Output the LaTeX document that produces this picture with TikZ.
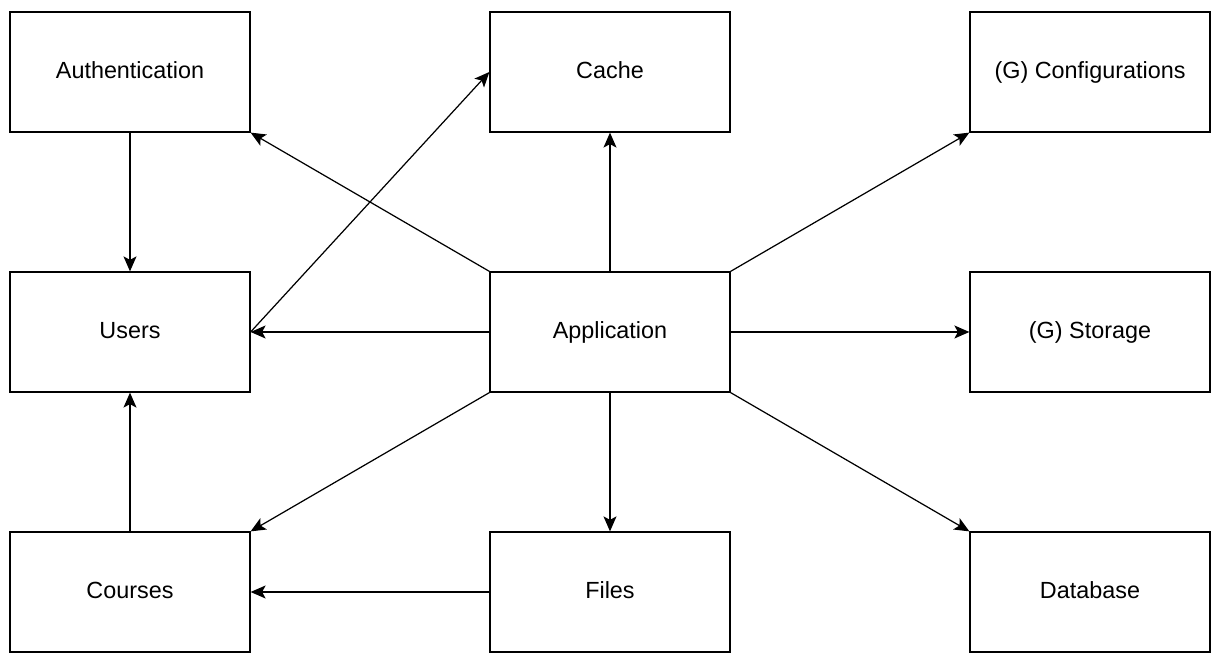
\documentclass[tikz,border=0pt]{standalone}
\usepackage{fontspec}
\setmainfont{Liberation Sans}
\usetikzlibrary{positioning,arrows.meta}
\tikzset{
>={Stealth[length=3mm,width=2.6mm,inset=0.7mm]}, % arrow heads of the connectors
node distance=5.2cm and 9.6cm, % vertical and horizontal spacing of the grid
every path/.style={line width=0.7pt},
every node/.style={font=\fontsize{13.3}{16}\selectfont,align=center},
on grid
}

\begin{document}
\begin{tikzpicture}[block/.style={rectangle, draw, minimum width=4.8cm, minimum height=2.4cm, text height=0.72em, text depth=0pt}]
   \useasboundingbox (-12.2,-6.42) rectangle (12.14,6.64);
   \node[block] (app) {Application};
   \node[block] (auth)    [above left=of app] {Authentication};
   \node[block] (cache)   [above=of app] {Cache};
   \node[block] (config)  [above right=of app] {(G) Configurations};
   \node[block] (users)   [left=of app] {Users};
   \node[block] (storage) [right=of app] {(G) Storage};
   \node[block] (courses) [below left=of app] {Courses};
   \node[block] (files)   [below=of app] {Files};
   \node[block] (db)      [below right=of app] {Database};
   \path[->]
    (auth)            edge (users)
    (app.north west)  edge (auth.south east)
    (users.east)      edge (cache.west)
    (app)             edge (cache)
    (app.north east)  edge (config.south west)
    (app)             edge (users)
    (app)             edge (storage)
    (app.south west)  edge (courses.north east)
    (app)             edge (files)
    (app.south east)  edge (db.north west)
    (files)           edge (courses)
    (courses)         edge (users);
\end{tikzpicture}
\end{document}
